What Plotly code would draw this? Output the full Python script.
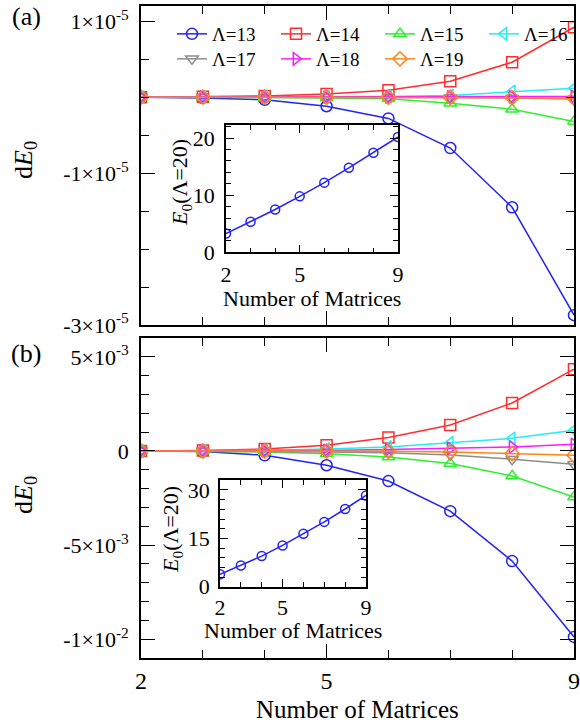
import plotly.graph_objects as go

W, H = 580, 722
FONT = "Liberation Serif"

x_matrices = [2, 3, 4, 5, 6, 7, 8, 9]
lambdas = ["Λ=13", "Λ=14", "Λ=15", "Λ=16", "Λ=17", "Λ=18", "Λ=19"]

# panel (a), dE0 in units of 1e-5
a_l13 = [0, -0.01, -0.035, -0.12, -0.28, -0.67, -1.45, -2.87]
a_l14 = [0, 0.005, 0.015, 0.04, 0.09, 0.21, 0.46, 0.92]
a_l15 = [0, -0.002, -0.005, -0.01, -0.022, -0.079, -0.16, -0.32]
a_l16 = [0, 0.001, 0.002, 0.004, 0.008, 0.022, 0.075, 0.118]
a_l17 = [0, 0, -0.001, -0.002, -0.004, -0.006, -0.012, -0.026]
a_l18 = [0, 0, 0.001, 0.001, 0.002, 0.003, 0.005, 0.009]
a_l19 = [0, 0, 0, -0.001, -0.002, -0.004, -0.007, -0.013]

# panel (b), dE0 in units of 1e-3
b_l13 = [0, -0.03, -0.23, -0.76, -1.6, -3.2, -5.85, -9.88]
b_l14 = [0, 0.02, 0.1, 0.3, 0.71, 1.38, 2.55, 4.34]
b_l15 = [0, -0.01, -0.05, -0.15, -0.32, -0.67, -1.33, -2.45]
b_l16 = [0, 0.01, 0.04, 0.1, 0.21, 0.44, 0.67, 1.1]
b_l17 = [0, -0.005, -0.02, -0.05, -0.1, -0.21, -0.44, -0.71]
b_l18 = [0, 0.003, 0.01, 0.03, 0.07, 0.14, 0.21, 0.35]
b_l19 = [0, 0, -0.005, -0.01, -0.02, -0.05, -0.14, -0.23]

# insets: E0(Λ=20)
inset_a = [3.3, 5.35, 7.5, 9.8, 12.2, 14.8, 17.45, 20.2]
inset_b = [3.85, 6.6, 9.5, 12.8, 16.4, 20.1, 24.1, 28.3]

colors = ["#2323f5", "#ff2d2d", "#2cf02c", "#22eeee", "#8c8c8c", "#ff1aff", "#ff8419"]
symbols = ["circle-open", "square-open", "triangle-up-open", "triangle-left-open",
           "triangle-down-open", "triangle-right-open", "diamond-open"]
legend_rows = ["legend", "legend", "legend", "legend", "legend2", "legend2", "legend2"]

a_series = [a_l13, a_l14, a_l15, a_l16, a_l17, a_l18, a_l19]
b_series = [b_l13, b_l14, b_l15, b_l16, b_l17, b_l18, b_l19]


def px_x(p):
    return p / W


def px_y(p):
    return 1 - p / H


fig = go.Figure()

for i, name in enumerate(lambdas):
    fig.add_trace(go.Scatter(
        x=x_matrices, y=[v * 1e-5 for v in a_series[i]], name=name, mode="lines+markers",
        line=dict(color=colors[i], width=1.5),
        marker=dict(symbol=symbols[i], size=11, color=colors[i], line=dict(width=1.5, color=colors[i])),
        xaxis="x", yaxis="y", legendgroup=name, showlegend=True, legend=legend_rows[i]))
for i, name in enumerate(lambdas):
    fig.add_trace(go.Scatter(
        x=x_matrices, y=[v * 1e-3 for v in b_series[i]], name=name, mode="lines+markers",
        line=dict(color=colors[i], width=1.5),
        marker=dict(symbol=symbols[i], size=11, color=colors[i], line=dict(width=1.5, color=colors[i])),
        xaxis="x2", yaxis="y2", legendgroup=name, showlegend=False))

fig.add_trace(go.Scatter(x=x_matrices, y=inset_a, mode="lines+markers", showlegend=False,
                         line=dict(color=colors[0], width=1.5),
                         marker=dict(symbol="circle-open", size=9, color=colors[0], line=dict(width=1.5)),
                         xaxis="x3", yaxis="y3"))
fig.add_trace(go.Scatter(x=x_matrices, y=inset_b, mode="lines+markers", showlegend=False,
                         line=dict(color=colors[0], width=1.5),
                         marker=dict(symbol="circle-open", size=9, color=colors[0], line=dict(width=1.5)),
                         xaxis="x4", yaxis="y4"))

main_dom_x = [px_x(141), px_x(574)]
axis_common = dict(showline=True, linecolor="black", linewidth=1.6, mirror="ticks",
                   ticks="inside", tickcolor="black", tickwidth=1.4, showgrid=False,
                   zeroline=False, automargin=False,
                   tickfont=dict(family=FONT, size=24, color="black"))
yaxis_common = {**axis_common, "tickfont": dict(family=FONT, size=22, color="black")}
inset_common = {**axis_common, "tickfont": dict(family=FONT, size=22, color="black")}


def minor(d, t0, ln, w=1.4):
    return dict(dtick=d, tick0=t0, ticklen=ln, ticks="inside", tickcolor="black", tickwidth=w)


legend_style = dict(orientation="h", xanchor="left", yanchor="top",
                    entrywidth=59, entrywidthmode="pixels", bgcolor="rgba(0,0,0,0)",
                    font=dict(family=FONT, size=19, color="black"), tracegroupgap=0,
                    itemsizing="trace", borderwidth=0)

fig.update_layout(
    template="none",
    width=W, height=H, margin=dict(l=0, r=0, t=0, b=0, autoexpand=False),
    paper_bgcolor="white", plot_bgcolor="rgba(0,0,0,0)",
    font=dict(family=FONT, color="black"),
    xaxis=dict(domain=main_dom_x, range=[2, 9], anchor="y", tickvals=[2, 5, 9],
               showticklabels=False, ticklen=14, minor=minor(1, 2, 8), **axis_common),
    yaxis=dict(domain=[px_y(325), px_y(6)], range=[-3.0e-5, 1.2e-5], anchor="x",
               tickvals=[1e-5, -1e-5, -3e-5],
               ticktext=["1×10<sup>-5</sup>", "-1×10<sup>-5</sup>", "-3×10<sup>-5</sup>"],
               ticklen=14, ticklabelstandoff=6, minor=minor(0.5e-5, 0, 8), **yaxis_common),
    xaxis2=dict(domain=main_dom_x, range=[2, 9], anchor="y2", tickvals=[2, 5, 9],
                ticktext=["2", "5", "9"], ticklen=14, ticklabelstandoff=0,
                minor=minor(1, 2, 8), **axis_common),
    yaxis2=dict(domain=[px_y(658), px_y(338)], range=[-11e-3, 6e-3], anchor="x2",
                tickvals=[5e-3, 0, -5e-3, -1e-2],
                ticktext=["5×10<sup>-3</sup>", "0", "-5×10<sup>-3</sup>", "-1×10<sup>-2</sup>"],
                ticklen=14, ticklabelstandoff=6, minor=minor(1e-3, 0, 8), **yaxis_common),
    xaxis3=dict(domain=[px_x(226), px_x(398)], range=[2, 9], anchor="y3", tickvals=[2, 5, 9],
                ticktext=["2", "5", "9"], ticklen=8, ticklabelstandoff=1,
                minor=minor(1, 2, 5, 1.2), **inset_common),
    yaxis3=dict(domain=[px_y(252.3), px_y(125)], range=[0, 22.3], anchor="x3", tickvals=[0, 10, 20],
                ticklen=8, ticklabelstandoff=5, minor=minor(2, 0, 5, 1.2), **inset_common),
    xaxis4=dict(domain=[px_x(220), px_x(366)], range=[2, 9], anchor="y4", tickvals=[2, 5, 9],
                ticktext=["2", "5", "9"], ticklen=8, ticklabelstandoff=0,
                minor=minor(1, 2, 5, 1.2), **inset_common),
    yaxis4=dict(domain=[px_y(586.7), px_y(480)], range=[0, 33.1], anchor="x4", tickvals=[0, 15, 30],
                ticklen=8, ticklabelstandoff=4, minor=minor(3, 0, 5, 1.2), **inset_common),
    legend=dict(x=px_x(172), y=px_y(15), **legend_style),
    legend2=dict(x=px_x(172), y=px_y(40), **legend_style),
)

annots = [
    dict(text="(a)", x=px_x(26), y=px_y(17), size=26, angle=0),
    dict(text="(b)", x=px_x(26), y=px_y(353), size=26, angle=0),
    dict(text="d<i>E</i><sub>0</sub>", x=px_x(25), y=px_y(160), size=26, angle=-90),
    dict(text="d<i>E</i><sub>0</sub>", x=px_x(25), y=px_y(495), size=26, angle=-90),
    dict(text="Number of Matrices", x=px_x(357), y=px_y(709), size=25, angle=0),
    dict(text="Number of Matrices", x=px_x(312), y=px_y(298), size=22, angle=0),
    dict(text="Number of Matrices", x=px_x(293), y=px_y(630), size=22, angle=0),
    dict(text="<i>E</i><sub>0</sub>(Λ=20)", x=px_x(181), y=px_y(183), size=22, angle=-90),
    dict(text="<i>E</i><sub>0</sub>(Λ=20)", x=px_x(172), y=px_y(530), size=22, angle=-90),
]
for a in annots:
    fig.add_annotation(text=a["text"], x=a["x"], y=a["y"], xref="paper", yref="paper",
                       showarrow=False, textangle=a["angle"], xanchor="center", yanchor="middle",
                       font=dict(family=FONT, size=a["size"], color="black"))

fig.write_html("out.html")
